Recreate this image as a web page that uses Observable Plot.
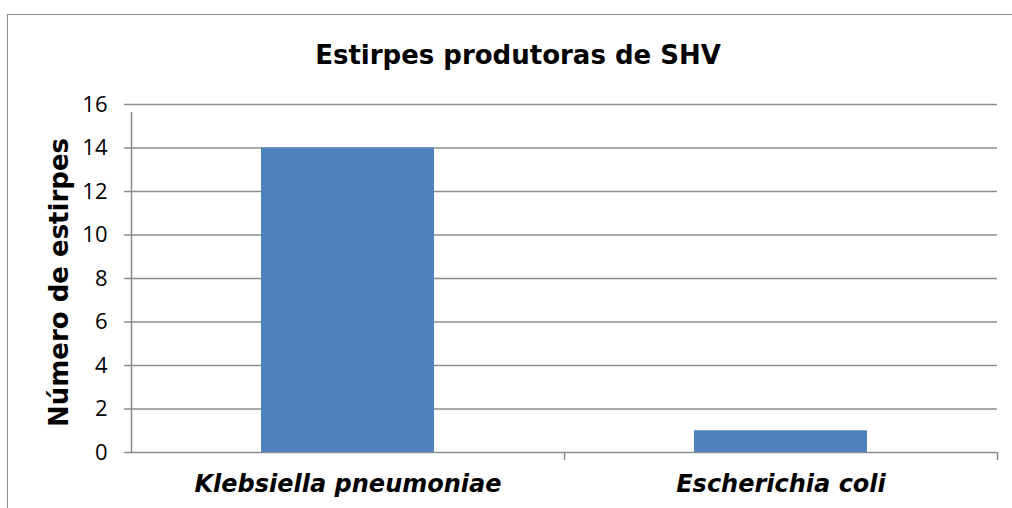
<!DOCTYPE html>
<html>
<head>
<meta charset="utf-8">
<script src="https://cdn.jsdelivr.net/npm/d3@7"></script>
<script src="https://cdn.jsdelivr.net/npm/@observablehq/plot@0.6"></script>
<style>
  html, body { margin: 0; padding: 0; background: #fff; }
  #wrap { position: relative; width: 1012px; height: 508px; overflow: hidden; }
  #outer { position: absolute; left: 7px; top: 14px; width: 1020px; height: 520px; border: 1.5px solid #8c8c8c; box-sizing: border-box; }
  #chart { position: absolute; left: 0; top: 0; }
  #chart svg { background: transparent; }
  [aria-label="x-axis tick label"] text { font-family: "DejaVu Sans", sans-serif; font-weight: bold; font-style: italic; font-size: 24px; fill: #000; }
  [aria-label="y-axis tick label"] text { font-family: "Open Sans", sans-serif; font-size: 22px; fill: #000; }
</style>
</head>
<body>
<div id="wrap"><div id="outer"></div><div id="chart"></div></div>
<script>
const titleText = "Estirpes produtoras de SHV";
const yLabelText = "Número de estirpes";
const categories = ["Klebsiella pneumoniae", "Escherichia coli"];
const counts = [14, 1];
const yTicks = [0, 2, 4, 6, 8, 10, 12, 14, 16];

const data = categories.map((c, i) => ({category: c, value: counts[i]}));
const gray = "#8c8c8c";
const step = (1012 - 131 - 15) / 2;

const chart = Plot.plot({
  width: 1012,
  height: 508,
  marginLeft: 131,
  marginRight: 15,
  marginTop: 104,
  marginBottom: 56,
  style: {background: "transparent", overflow: "visible"},
  x: {domain: categories, padding: 0.6, paddingOuter: 0.3, label: null},
  y: {domain: [0, 16], label: null},
  marks: [
    Plot.ruleY(yTicks, {stroke: gray, strokeWidth: 1.5, insetLeft: -7}),
    Plot.barY(data, {x: "category", y: "value", fill: "#4f81bd"}),
    Plot.ruleX([categories[0]], {y1: 0, y2: 16, dx: -step / 2, stroke: gray, strokeWidth: 1.5, insetBottom: -8}),
    Plot.ruleX(categories, {y1: 0, y2: 0, dx: step / 2, stroke: gray, strokeWidth: 1.5, insetBottom: -8}),
    Plot.axisY({ticks: yTicks, tickSize: 0, tickPadding: 24, tickFormat: d => String(d)}),
    Plot.axisX({tickSize: 0, tickPadding: 22}),
    Plot.text([titleText], {frameAnchor: "top", lineAnchor: "bottom", dx: -46.5, dy: -41, fontFamily: "DejaVu Sans, sans-serif", fontWeight: "bold", fontSize: 26, fill: "#000"}),
    Plot.text([yLabelText], {frameAnchor: "left", textAnchor: "middle", rotate: -90, dx: -72, dy: 4, fontFamily: "DejaVu Sans, sans-serif", fontWeight: "bold", fontSize: 26, fill: "#000"})
  ]
});
document.getElementById("chart").appendChild(chart);
</script>
</body>
</html>
